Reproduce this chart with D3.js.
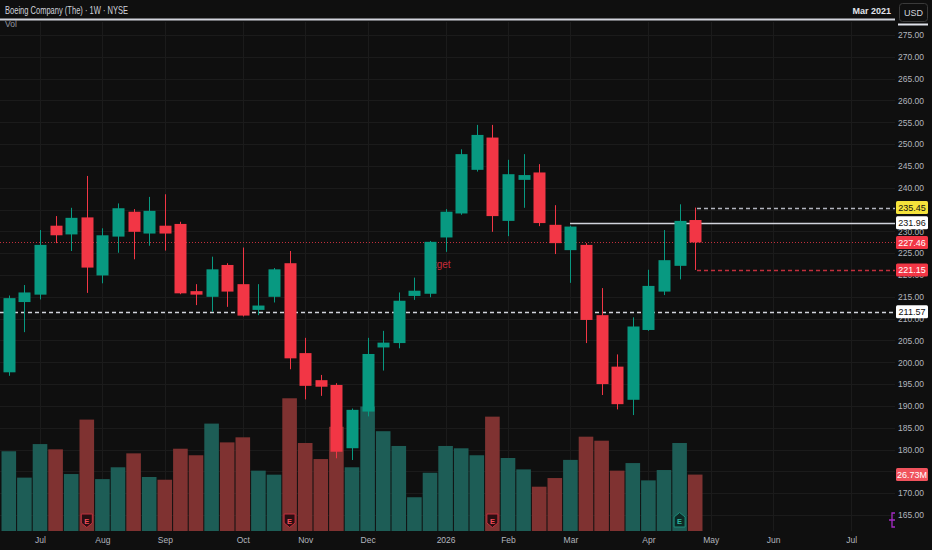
<!DOCTYPE html>
<html>
<head>
<meta charset="utf-8">
<script src="https://cdn.jsdelivr.net/npm/d3@7"></script>
<style>
    body { margin: 0; background: #0f0f0f; }
    svg { display: block; font-family: "Liberation Sans Narrow", "Liberation Sans", Arial, sans-serif; }
</style>
</head>
<body>
<script>
let opens  = [197.7, 213.8, 215.5, 231.3, 229.3, 233.2, 219.9, 228.8, 234.5, 229.5, 231.3, 231.7, 216.3, 215.0, 222.3,
              217.9, 212.0, 215.0, 222.7, 202.1, 195.9, 194.8, 180.3, 188.7, 203.4, 204.4, 215.2, 215.7, 228.6, 234.1,
              244.1, 251.5, 232.4, 241.8, 243.5, 231.5, 225.7, 226.9, 210.8, 199.0, 191.4, 207.4, 216.2, 222.1, 232.6];
let highs  = [215.3, 217.7, 230.3, 233.5, 235.4, 242.7, 230.7, 236.4, 235.1, 237.9, 238.5, 232.2, 217.9, 224.2, 222.7,
              226.3, 217.9, 221.6, 225.5, 205.6, 197.1, 195.2, 189.4, 205.6, 207.2, 216.0, 219.4, 227.8, 235.1, 248.8,
              254.4, 254.4, 246.4, 247.7, 245.4, 236.0, 231.3, 227.3, 217.0, 201.8, 210.3, 221.2, 230.3, 236.2, 235.45];
let lows   = [196.9, 206.9, 214.4, 227.3, 225.5, 215.9, 218.1, 225.1, 223.6, 226.7, 225.6, 215.6, 213.1, 211.6, 212.7,
              210.5, 210.8, 213.7, 198.4, 191.5, 192.3, 178.0, 177.6, 187.6, 198.1, 203.2, 214.3, 214.9, 225.3, 233.8,
              243.7, 229.9, 228.9, 235.4, 231.2, 224.8, 218.2, 204.4, 192.5, 189.2, 187.9, 207.2, 215.4, 219.0, 221.15];
let closes = [214.7, 216.0, 226.9, 229.1, 233.1, 221.7, 229.1, 235.3, 229.9, 234.7, 229.5, 215.8, 215.5, 221.3, 216.2,
              210.7, 213.0, 221.3, 200.9, 194.6, 194.4, 179.5, 189.1, 201.9, 204.5, 214.1, 216.4, 227.6, 234.5, 247.7,
              252.1, 233.5, 243.1, 242.9, 231.9, 227.3, 231.1, 209.7, 195.0, 190.4, 208.2, 217.5, 223.4, 232.4, 227.46];
// volume in millions
let volumes = [37.8, 25.3, 41.2, 38.7, 27.0, 52.8, 24.6, 30.2, 36.8, 25.6, 24.3, 39.0, 35.9, 50.9, 42.0,
               44.4, 28.6, 26.7, 62.9, 41.7, 34.1, 49.4, 30.2, 59.0, 47.3, 40.3, 16.0, 27.6, 40.3, 39.2,
               35.9, 54.2, 34.6, 29.2, 21.0, 25.1, 33.7, 44.7, 42.8, 28.6, 32.2, 24.0, 28.9, 41.7, 26.73];

let priceTicks = d3.range(165, 276, 5);
let tickDates = ["2025-07-07", "2025-08-04", "2025-09-01", "2025-10-06", "2025-11-03", "2025-12-01", "2026-01-05",
                 "2026-02-02", "2026-03-02", "2026-04-06", "2026-05-04", "2026-06-01", "2026-07-06"];
let tickLabels = ["Jul", "Aug", "Sep", "Oct", "Nov", "Dec", "2026", "Feb", "Mar", "Apr", "May", "Jun", "Jul"];
let earningsBars = [5, 18, 31, 43];

let levels = [
    {value: 235.45, color: "#f5e33b", text: "#111", line: "#b2b5be", dash: "4,3", from: 697},
    {value: 231.96, color: "#ffffff", text: "#111", line: "#d1d4dc", dash: null, from: 570},
    {value: 227.46, color: "#f23645", text: "#fff", line: "#c12f3c", dash: "1,2", from: 0},
    {value: 221.15, color: "#f23645", text: "#fff", line: "#c12f3c", dash: "4,3", from: 697},
    {value: 211.57, color: "#ffffff", text: "#111", line: "#d1d4dc", dash: "4,3", from: 0}
];

let width = 932,
    height = 550,
    plotRight = 895;

let parse = d3.timeParse("%Y-%m-%d");
let weeks = d3.timeMonday.range(parse("2025-06-23"), parse("2026-04-28"));
let bars = weeks.map(function(d, i) {
    return {date: d, o: opens[i], h: highs[i], l: lows[i], c: closes[i], v: volumes[i]};
});

let x = d3.scaleTime()
    .domain([parse("2025-06-23"), parse("2026-07-06")])
    .range([8.8, 851.2]);
let y = d3.scaleLinear()
    .domain([165, 275])
    .range([515, 35]);
let yVol = d3.scaleLinear()
    .domain([0, 100])
    .range([531, 320]);

let up = "#089981", down = "#f23645";
let volUp = "#1d5d56", volDown = "#7f3231";

let svg = d3.select("body").append("svg")
    .attr("width", width)
    .attr("height", height);

svg.append("rect").attr("width", width).attr("height", height).attr("fill", "#0f0f0f");

// grid
svg.append("g").selectAll("line")
    .data(priceTicks)
    .enter().append("line")
    .attr("x1", 0).attr("x2", plotRight)
    .attr("y1", function(d) { return Math.round(y(d)) + 0.5; })
    .attr("y2", function(d) { return Math.round(y(d)) + 0.5; })
    .attr("stroke", "#1b1b1b");

svg.append("g").selectAll("line")
    .data(tickDates)
    .enter().append("line")
    .attr("y1", 22).attr("y2", 531)
    .attr("x1", function(d) { return Math.round(x(parse(d))) + 0.5; })
    .attr("x2", function(d) { return Math.round(x(parse(d))) + 0.5; })
    .attr("stroke", "#1b1b1b");

// watermark text partly behind a candle
svg.append("text")
    .attr("x", 425).attr("y", 268)
    .attr("fill", "#c42b39")
    .attr("font-size", 10)
    .text("Bitget");

// volume
svg.append("g").selectAll("rect")
    .data(bars)
    .enter().append("rect")
    .attr("x", function(d) { return x(d.date) - 7.3; })
    .attr("width", 14.6)
    .attr("y", function(d) { return yVol(d.v); })
    .attr("height", function(d) { return yVol(0) - yVol(d.v); })
    .attr("fill", function(d) { return d.c >= d.o ? volUp : volDown; });

// earnings badges
let badge = svg.append("g").selectAll("g")
    .data(earningsBars)
    .enter().append("g")
    .attr("transform", function(i) { return "translate(" + x(bars[i].date) + ",0)"; });

badge.append("path")
    .attr("d", function(i) {
        return bars[i].c >= bars[i].o
            ? "M-5.5,527 L-5.5,517 L0,512.5 L5.5,517 L5.5,527 Z"
            : "M-5.5,514 L5.5,514 L5.5,523 L0,527.5 L-5.5,523 Z";
    })
    .attr("fill", function(i) { return bars[i].c >= bars[i].o ? "#0c2a26" : "#2a0f12"; })
    .attr("stroke", function(i) { return bars[i].c >= bars[i].o ? "#1f8a78" : "#c0303e"; });

badge.append("text")
    .attr("y", 524)
    .attr("text-anchor", "middle")
    .attr("font-size", 7.5)
    .attr("font-weight", "bold")
    .attr("fill", function(i) { return bars[i].c >= bars[i].o ? "#2bb39c" : "#f04a57"; })
    .text("E");

// level lines
svg.append("g").selectAll("line")
    .data(levels)
    .enter().append("line")
    .attr("x1", function(d) { return d.from; })
    .attr("x2", plotRight)
    .attr("y1", function(d) { return Math.round(y(d.value)) + 0.5; })
    .attr("y2", function(d) { return Math.round(y(d.value)) + 0.5; })
    .attr("stroke", function(d) { return d.line; })
    .attr("stroke-width", function(d) { return d.dash === "1,2" ? 1 : 1.3; })
    .attr("stroke-dasharray", function(d) { return d.dash; });

// candles
let candle = svg.append("g").selectAll("g")
    .data(bars)
    .enter().append("g")
    .attr("fill", function(d) { return d.c >= d.o ? up : down; })
    .attr("stroke", function(d) { return d.c >= d.o ? up : down; });

candle.append("line")
    .attr("x1", function(d) { return Math.round(x(d.date)) + 0.5; })
    .attr("x2", function(d) { return Math.round(x(d.date)) + 0.5; })
    .attr("y1", function(d) { return y(d.h); })
    .attr("y2", function(d) { return y(d.l); });

candle.append("rect")
    .attr("stroke", "none")
    .attr("x", function(d) { return Math.round(x(d.date)) + 0.5 - 6; })
    .attr("width", 12)
    .attr("y", function(d) { return y(Math.max(d.o, d.c)); })
    .attr("height", function(d) { return Math.max(1, Math.abs(y(d.o) - y(d.c))); });

// header
svg.append("line")
    .attr("x1", 0).attr("x2", plotRight)
    .attr("y1", 19.5).attr("y2", 19.5)
    .attr("stroke", "#d1d4dc").attr("stroke-width", 2);

svg.append("text")
    .attr("x", 5).attr("y", 13.5)
    .attr("fill", "#d1d4dc")
    .attr("font-size", 10.5)
    .attr("textLength", 123)
    .attr("lengthAdjust", "spacingAndGlyphs")
    .text("Boeing Company (The) · 1W · NYSE");

svg.append("text")
    .attr("x", 5).attr("y", 27)
    .attr("fill", "#9598a1")
    .attr("font-size", 8.5)
    .text("Vol");

svg.append("text")
    .attr("x", 891).attr("y", 14)
    .attr("text-anchor", "end")
    .attr("fill", "#e0e3eb")
    .attr("font-size", 9)
    .attr("font-weight", "bold")
    .text("Mar 2021");

svg.append("rect")
    .attr("x", 899.5).attr("y", 3.5)
    .attr("width", 28).attr("height", 18).attr("rx", 3)
    .attr("fill", "none").attr("stroke", "#3a3a3a");

svg.append("text")
    .attr("x", 913.5).attr("y", 15.5)
    .attr("text-anchor", "middle")
    .attr("fill", "#d1d4dc")
    .attr("font-size", 9)
    .text("USD");

svg.append("line")
    .attr("x1", 898).attr("x2", 928)
    .attr("y1", 24.5).attr("y2", 24.5)
    .attr("stroke", "#e0e3eb").attr("stroke-width", 2);

// price axis
svg.append("g")
    .attr("transform", "translate(924,0)")
    .call(d3.axisRight(y).tickValues(priceTicks).tickSize(0).tickPadding(0)
        .tickFormat(function(d) { return d3.format(".2f")(d); }))
    .call(function(g) {
        g.select(".domain").remove();
        g.selectAll("text")
            .attr("text-anchor", "end")
            .attr("fill", "#b2b5be")
            .attr("font-size", 8.5)
            .attr("font-family", null);
    });

// time axis
svg.append("g")
    .attr("transform", "translate(0,531)")
    .call(d3.axisBottom(x).tickValues(tickDates.map(parse)).tickSize(0).tickPadding(6)
        .tickFormat(function(d, i) { return tickLabels[i]; }))
    .call(function(g) {
        g.select(".domain").remove();
        g.selectAll("text")
            .attr("fill", "#b2b5be")
            .attr("font-size", 8.5)
            .attr("font-family", null);
    });

// price tags
let tags = levels.map(function(d) {
    return {y: y(d.value), fill: d.color, color: d.text, label: d3.format(".2f")(d.value)};
});
tags.push({y: yVol(volumes[volumes.length - 1]), fill: "#f0535d", color: "#fff",
           label: d3.format(".2f")(volumes[volumes.length - 1]) + "M"});

let tag = svg.append("g").selectAll("g")
    .data(tags)
    .enter().append("g")
    .attr("transform", function(d) { return "translate(0," + d.y + ")"; });

tag.append("rect")
    .attr("x", 896).attr("y", -6.5)
    .attr("width", 32).attr("height", 13).attr("rx", 1.5)
    .attr("fill", function(d) { return d.fill; });

tag.append("text")
    .attr("x", 912).attr("y", 3.3)
    .attr("text-anchor", "middle")
    .attr("font-size", 9)
    .attr("fill", function(d) { return d.color; })
    .text(function(d) { return d.label; });

// small purple marker near the axis
svg.append("path")
    .attr("d", "M895,513 L892,513 L892,527 L895,527 M892,520 L895,520 M889,520 L892,520")
    .attr("fill", "none")
    .attr("stroke", "#a42bc4")
    .attr("stroke-width", 1.3);
</script>
</body>
</html>
